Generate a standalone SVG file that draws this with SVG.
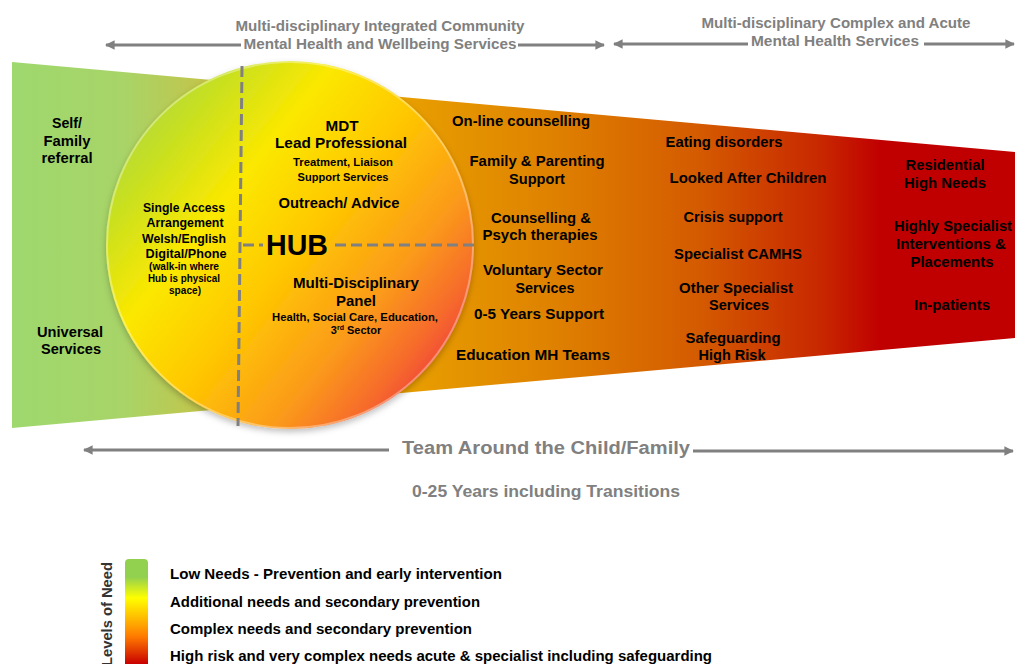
<svg xmlns="http://www.w3.org/2000/svg" width="1015" height="664" viewBox="0 0 1015 664">
<style>
text{font-family:"Liberation Sans",Arial,sans-serif;font-weight:bold;fill:#000;text-anchor:middle}
.g{fill:#808080}
.h{font-size:15.5px}
.m{font-size:15px}
.s{font-size:12.5px}
.xs{font-size:10px}
.t{font-size:11px}
.lg{font-size:14.5px;text-anchor:start}
.ln{stroke:#808080;stroke-width:3;fill:none}
.dash{stroke:#808080;stroke-width:3;stroke-dasharray:11 5;fill:none}
</style>
<defs>
<linearGradient id="trap" gradientUnits="userSpaceOnUse" x1="12" y1="0" x2="1015" y2="0">
<stop offset="0" stop-color="#9ed86e"/>
<stop offset="0.11" stop-color="#a8d468"/>
<stop offset="0.22" stop-color="#ccc040"/>
<stop offset="0.387" stop-color="#e8a000"/>
<stop offset="0.536" stop-color="#df8200"/>
<stop offset="0.686" stop-color="#d45a00"/>
<stop offset="0.806" stop-color="#c82800"/>
<stop offset="0.865" stop-color="#c00000"/>
<stop offset="1" stop-color="#c00000"/>
</linearGradient>
<linearGradient id="hub" gradientUnits="userSpaceOnUse" x1="135" y1="105" x2="470" y2="375">
<stop offset="0" stop-color="#b0d840"/>
<stop offset="0.12" stop-color="#c8e020"/>
<stop offset="0.3" stop-color="#fbe800"/>
<stop offset="0.5" stop-color="#ffc800"/>
<stop offset="0.72" stop-color="#fb9a1a"/>
<stop offset="0.86" stop-color="#f66a2c"/>
<stop offset="0.95" stop-color="#f04038"/>
<stop offset="1" stop-color="#ee3a3a"/>
</linearGradient>
<linearGradient id="bar" x1="0" y1="0" x2="0" y2="1">
<stop offset="0" stop-color="#92d050"/>
<stop offset="0.17" stop-color="#92d050"/>
<stop offset="0.37" stop-color="#ffff00"/>
<stop offset="0.55" stop-color="#ffc000"/>
<stop offset="0.74" stop-color="#ff7a00"/>
<stop offset="1" stop-color="#c80000"/>
</linearGradient>
<filter id="shadow" x="-10%" y="-10%" width="120%" height="125%">
<feDropShadow dx="0" dy="3" stdDeviation="3" flood-color="#000" flood-opacity="0.25"/>
</filter>
<marker id="ah" viewBox="0 0 10 10" refX="9" refY="5" markerWidth="3.2" markerHeight="3.2" orient="auto-start-reverse">
<path d="M0,0 L10,5 L0,10 z" fill="#808080"/>
</marker>
</defs>

<g id="spectrum">
<polygon points="12,62 1015,152 1015,338 12,428" fill="url(#trap)"/>
</g>

<g id="hub-circle">
<circle cx="290" cy="245" r="184" fill="url(#hub)" filter="url(#shadow)"/>
<circle cx="290" cy="245" r="183" fill="none" stroke="#ffffff" stroke-opacity="0.35" stroke-width="2"/>
</g>

<g id="connectors">
<line class="dash" x1="242" y1="66" x2="238" y2="426"/>
<line class="dash" x1="243" y1="245" x2="263" y2="245"/>
<line class="dash" x1="335" y1="245" x2="475" y2="245"/>
<line class="ln" x1="241" y1="45" x2="106" y2="45" marker-end="url(#ah)"/>
<line class="ln" x1="518" y1="45" x2="604" y2="45" marker-end="url(#ah)"/>
<line class="ln" x1="748" y1="44" x2="614" y2="44" marker-end="url(#ah)"/>
<line class="ln" x1="924" y1="44" x2="1014" y2="44" marker-end="url(#ah)"/>
<line class="ln" x1="389" y1="450" x2="84" y2="450" marker-end="url(#ah)"/>
<line class="ln" x1="693" y1="451" x2="1013" y2="451" marker-end="url(#ah)"/>
</g>

<g id="header-left">
<text class="g h" x="380" y="31" textLength="289" lengthAdjust="spacingAndGlyphs">Multi-disciplinary Integrated Community</text>
<text class="g h" x="380" y="49" textLength="273" lengthAdjust="spacingAndGlyphs">Mental Health and Wellbeing Services</text>
</g>
<g id="header-right">
<text class="g h" x="836" y="28" textLength="269" lengthAdjust="spacingAndGlyphs">Multi-disciplinary Complex and Acute</text>
<text class="g h" x="835" y="46" textLength="168" lengthAdjust="spacingAndGlyphs">Mental Health Services</text>
</g>

<g id="self-referral">
<text class="m" x="67" y="128" textLength="30" lengthAdjust="spacingAndGlyphs">Self/</text>
<text class="m" x="67" y="146" textLength="47" lengthAdjust="spacingAndGlyphs">Family</text>
<text class="m" x="67" y="163" textLength="51" lengthAdjust="spacingAndGlyphs">referral</text>
</g>
<g id="universal">
<text class="m" x="70" y="337" textLength="66" lengthAdjust="spacingAndGlyphs">Universal</text>
<text class="m" x="71" y="354" textLength="60" lengthAdjust="spacingAndGlyphs">Services</text>
</g>

<g id="single-access">
<text class="s" x="184" y="212" textLength="82" lengthAdjust="spacingAndGlyphs">Single Access</text>
<text class="s" x="185" y="227" textLength="77" lengthAdjust="spacingAndGlyphs">Arrangement</text>
<text class="s" x="184" y="243" textLength="84" lengthAdjust="spacingAndGlyphs">Welsh/English</text>
<text class="s" x="186" y="258" textLength="81" lengthAdjust="spacingAndGlyphs">Digital/Phone</text>
<text class="xs" x="184" y="270" textLength="70" lengthAdjust="spacingAndGlyphs">(walk-in where</text>
<text class="xs" x="184" y="282" textLength="72" lengthAdjust="spacingAndGlyphs">Hub is physical</text>
<text class="xs" x="185" y="294" textLength="32" lengthAdjust="spacingAndGlyphs">space)</text>
</g>

<g id="mdt">
<text class="m" x="342" y="131" textLength="33" lengthAdjust="spacingAndGlyphs">MDT</text>
<text class="m" x="341" y="148" textLength="132" lengthAdjust="spacingAndGlyphs">Lead  Professional</text>
<text class="t" x="343" y="166" textLength="100" lengthAdjust="spacingAndGlyphs">Treatment, Liaison</text>
<text class="t" x="343" y="181" textLength="91" lengthAdjust="spacingAndGlyphs">Support Services</text>
<text class="m" x="339" y="208" textLength="121" lengthAdjust="spacingAndGlyphs">Outreach/ Advice</text>
</g>

<g id="hub-label">
<text x="297" y="255" style="font-size:29px" textLength="62" lengthAdjust="spacingAndGlyphs">HUB</text>
</g>

<g id="panel">
<text class="m" x="356" y="288" textLength="126" lengthAdjust="spacingAndGlyphs">Multi-Disciplinary</text>
<text class="m" x="356" y="306" textLength="40" lengthAdjust="spacingAndGlyphs">Panel</text>
<text class="t" x="355" y="321" textLength="166" lengthAdjust="spacingAndGlyphs">Health, Social Care, Education,</text>
<text class="t" x="356" y="334">3<tspan font-size="7" dy="-4">rd</tspan><tspan dy="4"> Sector</tspan></text>
</g>

<g id="community-services">
<text class="m" x="521" y="126" textLength="138" lengthAdjust="spacingAndGlyphs">On-line counselling</text>
<text class="m" x="537" y="166" textLength="135" lengthAdjust="spacingAndGlyphs">Family &amp; Parenting</text>
<text class="m" x="537" y="184" textLength="56" lengthAdjust="spacingAndGlyphs">Support</text>
<text class="m" x="541" y="223" textLength="100" lengthAdjust="spacingAndGlyphs">Counselling &amp;</text>
<text class="m" x="540" y="240" textLength="115" lengthAdjust="spacingAndGlyphs">Psych therapies</text>
<text class="m" x="543" y="275" textLength="120" lengthAdjust="spacingAndGlyphs">Voluntary Sector</text>
<text class="m" x="545" y="293" textLength="59" lengthAdjust="spacingAndGlyphs">Services</text>
<text class="m" x="539" y="319" textLength="130" lengthAdjust="spacingAndGlyphs">0-5 Years Support</text>
<text class="m" x="533" y="360" textLength="154" lengthAdjust="spacingAndGlyphs">Education MH Teams</text>
</g>

<g id="complex-services">
<text class="m" x="724" y="147" textLength="117" lengthAdjust="spacingAndGlyphs">Eating disorders</text>
<text class="m" x="748" y="183" textLength="157" lengthAdjust="spacingAndGlyphs">Looked After Children</text>
<text class="m" x="733" y="222" textLength="99" lengthAdjust="spacingAndGlyphs">Crisis support</text>
<text class="m" x="738" y="259" textLength="128" lengthAdjust="spacingAndGlyphs">Specialist CAMHS</text>
<text class="m" x="736" y="293" textLength="114" lengthAdjust="spacingAndGlyphs">Other Specialist</text>
<text class="m" x="739" y="310" textLength="60" lengthAdjust="spacingAndGlyphs">Services</text>
<text class="m" x="733" y="343" textLength="95" lengthAdjust="spacingAndGlyphs">Safeguarding</text>
<text class="m" x="732" y="360" textLength="67" lengthAdjust="spacingAndGlyphs">High Risk</text>
</g>

<g id="acute-services">
<text class="m" x="945" y="170" textLength="79" lengthAdjust="spacingAndGlyphs">Residential</text>
<text class="m" x="945" y="188" textLength="82" lengthAdjust="spacingAndGlyphs">High Needs</text>
<text class="m" x="953" y="231" textLength="118" lengthAdjust="spacingAndGlyphs">Highly Specialist</text>
<text class="m" x="951" y="249" textLength="110" lengthAdjust="spacingAndGlyphs">Interventions &amp;</text>
<text class="m" x="952" y="267" textLength="83" lengthAdjust="spacingAndGlyphs">Placements</text>
<text class="m" x="952" y="310" textLength="76" lengthAdjust="spacingAndGlyphs">In-patients</text>
</g>

<g id="team-around">
<text class="g" x="546" y="454" style="font-size:18px" textLength="288" lengthAdjust="spacingAndGlyphs">Team Around the Child/Family</text>
<text class="g" x="546" y="497" style="font-size:16px" textLength="268" lengthAdjust="spacingAndGlyphs">0-25 Years including Transitions</text>
</g>

<g id="legend">
<path d="M125,563 Q125,559 129,559 L144,559 Q148,559 148,563 L148,664 L125,664 Z" fill="url(#bar)"/>
<text transform="translate(112,562) rotate(-90)" x="0" y="0" style="font-size:14px;text-anchor:end;fill:#333" textLength="104" lengthAdjust="spacingAndGlyphs">Levels of Need</text>
<text class="lg" x="170" y="579" textLength="332" lengthAdjust="spacingAndGlyphs">Low Needs - Prevention and early intervention</text>
<text class="lg" x="170" y="607" textLength="310" lengthAdjust="spacingAndGlyphs">Additional needs and secondary prevention</text>
<text class="lg" x="170" y="634" textLength="302" lengthAdjust="spacingAndGlyphs">Complex needs and secondary prevention</text>
<text class="lg" x="170" y="661" textLength="542" lengthAdjust="spacingAndGlyphs">High risk and very complex needs acute &amp; specialist including safeguarding</text>
</g>
</svg>
